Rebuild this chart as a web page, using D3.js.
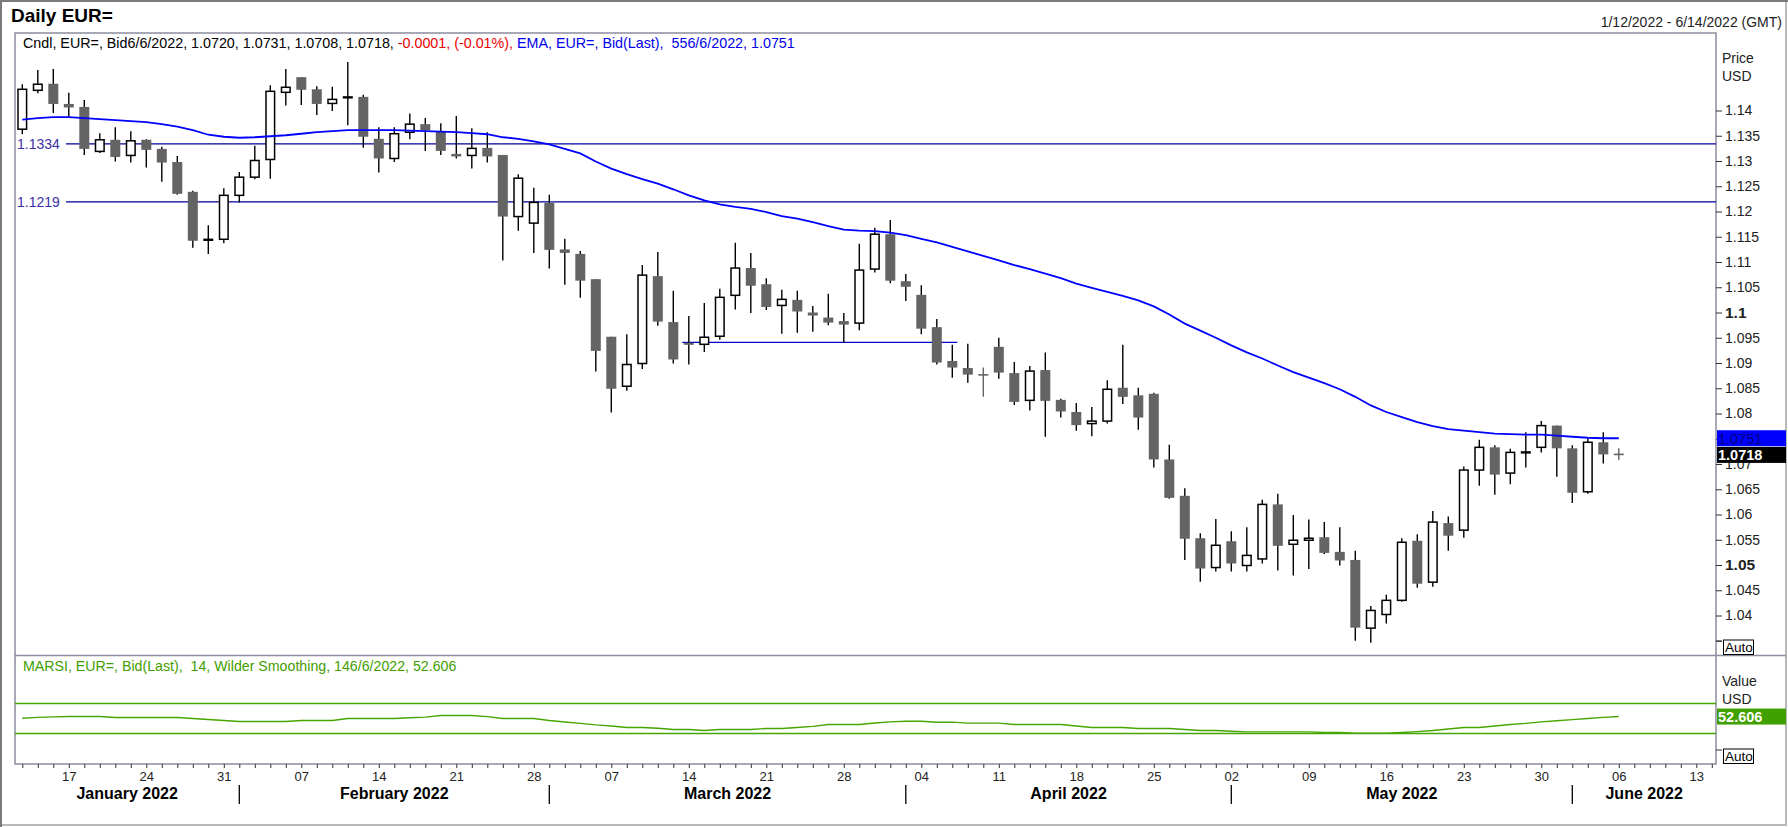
<!DOCTYPE html>
<html>
<head>
<meta charset="utf-8">
<script src="https://cdn.jsdelivr.net/npm/d3@7"></script>
<style>
  body { margin: 0; background: #fff; }
  svg { display: block; font-family: "Liberation Sans", Arial, sans-serif; }
  text { white-space: pre; }
</style>
</head>
<body>
<div id="chart"></div>
<script>
// ---- data (EUR= daily, 12 Jan 2022 - 6 Jun 2022) ----
const openP = [
  1.1363, 1.1440, 1.1453, 1.1413, 1.1407, 1.1319, 1.1342, 1.1311, 1.1342, 1.1324,
  1.1298, 1.1239, 1.1143, 1.1145, 1.1232, 1.1268, 1.1303, 1.1436, 1.1466, 1.1442,
  1.1414, 1.1425, 1.1427, 1.1344, 1.1305, 1.1357, 1.1373, 1.1359, 1.1314, 1.1311,
  1.1326, 1.1312, 1.1190, 1.1177, 1.1217, 1.1125, 1.1116, 1.1066, 1.0952, 1.0854,
  1.0899, 1.1072, 1.0981, 1.0940, 1.0937, 1.0953, 1.1034, 1.1088, 1.1056, 1.1014,
  1.1025, 1.1000, 1.0990, 1.0983, 1.0979, 1.1086, 1.1155, 1.1062, 1.1035, 1.0971,
  1.0904, 1.0890, 1.0877, 1.0932, 1.0880, 1.0826, 1.0886, 1.0827, 1.0803, 1.0780,
  1.0785, 1.0851, 1.0836, 1.0839, 1.0709, 1.0637, 1.0553, 1.0495, 1.0547, 1.0499,
  1.0512, 1.0620, 1.0541, 1.0549, 1.0555, 1.0526, 1.0510, 1.0375, 1.0402, 1.0430,
  1.0548, 1.0466, 1.0583, 1.0569, 1.0688, 1.0733, 1.0682, 1.0722, 1.0733, 1.0776,
  1.0731, 1.0645, 1.0743, 1.0720
];
const highP = [
  1.1452, 1.1480, 1.1482, 1.1435, 1.1421, 1.1355, 1.1367, 1.1359, 1.1343, 1.1328,
  1.1310, 1.1241, 1.1173, 1.1246, 1.1278, 1.1330, 1.1450, 1.1482, 1.1466, 1.1448,
  1.1447, 1.1496, 1.1431, 1.1367, 1.1367, 1.1394, 1.1385, 1.1375, 1.1389, 1.1365,
  1.1357, 1.1312, 1.1274, 1.1247, 1.1233, 1.1146, 1.1122, 1.1066, 1.0952, 1.0957,
  1.1094, 1.1120, 1.1043, 1.0993, 1.1019, 1.1047, 1.1138, 1.1118, 1.1068, 1.1045,
  1.1043, 1.1013, 1.1037, 1.0999, 1.1136, 1.1168, 1.1183, 1.1076, 1.1054, 1.0987,
  1.0936, 1.0938, 1.0891, 1.0950, 1.0902, 1.0894, 1.0921, 1.0829, 1.0821, 1.0813,
  1.0866, 1.0936, 1.0851, 1.0841, 1.0738, 1.0652, 1.0563, 1.0591, 1.0567, 1.0575,
  1.0629, 1.0641, 1.0599, 1.0590, 1.0585, 1.0575, 1.0528, 1.0419, 1.0441, 1.0553,
  1.0561, 1.0607, 1.0596, 1.0695, 1.0748, 1.0737, 1.0730, 1.0763, 1.0785, 1.0776,
  1.0737, 1.0750, 1.0763, 1.0731
];
const lowP = [
  1.1353, 1.1434, 1.1395, 1.1388, 1.1312, 1.1316, 1.1299, 1.1297, 1.1287, 1.1259,
  1.1233, 1.1128, 1.1116, 1.1137, 1.1218, 1.1264, 1.1265, 1.1410, 1.1411, 1.1391,
  1.1399, 1.1371, 1.1326, 1.1277, 1.1298, 1.1343, 1.1320, 1.1312, 1.1305, 1.1285,
  1.1297, 1.1103, 1.1162, 1.1118, 1.1087, 1.1055, 1.1029, 1.0883, 1.0802, 1.0845,
  1.0888, 1.0974, 1.0899, 1.0897, 1.0922, 1.0946, 1.1006, 1.0999, 1.1005, 1.0958,
  1.0960, 1.0962, 1.0975, 1.0941, 1.0965, 1.1079, 1.1058, 1.1023, 1.0957, 1.0897,
  1.0871, 1.0861, 1.0833, 1.0869, 1.0817, 1.0806, 1.0754, 1.0792, 1.0766, 1.0755,
  1.0780, 1.0819, 1.0768, 1.0693, 1.0631, 1.0510, 1.0467, 1.0487, 1.0487, 1.0487,
  1.0503, 1.0489, 1.0479, 1.0492, 1.0522, 1.0499, 1.0350, 1.0346, 1.0384, 1.0427,
  1.0455, 1.0457, 1.0528, 1.0554, 1.0657, 1.0639, 1.0660, 1.0693, 1.0723, 1.0675,
  1.0623, 1.0641, 1.0701, 1.0708
];
const closeP = [
  1.1442, 1.1452, 1.1413, 1.1406, 1.1324, 1.1342, 1.1308, 1.1340, 1.1322, 1.1297,
  1.1235, 1.1142, 1.1145, 1.1232, 1.1268, 1.1301, 1.1438, 1.1446, 1.1441, 1.1413,
  1.1422, 1.1427, 1.1348, 1.1305, 1.1354, 1.1373, 1.1361, 1.1320, 1.1309, 1.1325,
  1.1309, 1.1190, 1.1266, 1.1218, 1.1124, 1.1118, 1.1063, 1.0924, 1.0849, 1.0897,
  1.1074, 1.0982, 1.0907, 1.0936, 1.0951, 1.1030, 1.1088, 1.1053, 1.1011, 1.1026,
  1.1002, 1.0994, 1.0980, 1.0976, 1.1084, 1.1155, 1.1063, 1.1051, 1.0968, 1.0901,
  1.0891, 1.0877, 1.0876, 1.0881, 1.0823, 1.0884, 1.0825, 1.0804, 1.0777, 1.0785,
  1.0848, 1.0833, 1.0792, 1.0709, 1.0633, 1.0552, 1.0493, 1.0539, 1.0503, 1.0519,
  1.0620, 1.0538, 1.0549, 1.0553, 1.0524, 1.0509, 1.0376, 1.0410, 1.0430, 1.0545,
  1.0463, 1.0585, 1.0558, 1.0688, 1.0733, 1.0679, 1.0723, 1.0724, 1.0776, 1.0731,
  1.0643, 1.0743, 1.0719, 1.0718
];
// EMA 55 as drawn
const emaP = [
  1.1382, 1.1385, 1.1387, 1.1387, 1.1385, 1.1383, 1.1381, 1.1379, 1.1377, 1.1373,
  1.1368, 1.1361, 1.1352, 1.1348, 1.1346, 1.1347, 1.1349, 1.1351, 1.1354, 1.1357,
  1.1359, 1.1361, 1.1361, 1.1361, 1.1361, 1.1360, 1.1359, 1.1358, 1.1357, 1.1355,
  1.1353, 1.1347, 1.1344, 1.1339, 1.1333, 1.1324, 1.1315, 1.1299, 1.1285, 1.1274,
  1.1264, 1.1255, 1.1244, 1.1232, 1.1222, 1.1214, 1.1209, 1.1205, 1.1199, 1.1191,
  1.1186, 1.1179, 1.1171, 1.1164, 1.1162, 1.1161, 1.1158, 1.1153, 1.1146, 1.1139,
  1.1130, 1.1121, 1.1112, 1.1103, 1.1094, 1.1086, 1.1077, 1.1068, 1.1057, 1.1049,
  1.1041, 1.1033, 1.1024, 1.1012, 1.0996, 1.0978, 1.0964, 1.0950, 1.0935, 1.0921,
  1.0909, 1.0895, 1.0882, 1.0871, 1.0860, 1.0848, 1.0833, 1.0816, 1.0803, 1.0793,
  1.0783, 1.0775, 1.0769, 1.0766, 1.0763, 1.0760, 1.0759, 1.0758, 1.0758, 1.0756,
  1.0754, 1.0752, 1.0751, 1.0751
];
// MARSI 14, Wilder smoothing, as drawn
const rsiV = [
  50.3, 51.5, 52.2, 52.7, 52.7, 52.7, 51.3, 51.3, 51.3, 51.3,
  51.3, 50.0, 48.7, 47.3, 46.0, 46.0, 46.0, 46.0, 47.3, 47.3,
  47.3, 50.0, 50.0, 50.0, 50.0, 51.0, 51.8, 54.0, 54.0, 54.0,
  52.5, 50.0, 50.0, 50.0, 47.3, 45.3, 43.5, 41.5, 40.0, 38.0,
  38.0, 37.0, 35.3, 35.3, 34.0, 35.3, 35.3, 35.3, 36.7, 36.7,
  38.0, 39.5, 42.0, 42.0, 42.0, 44.0, 45.5, 46.4, 46.4, 45.1,
  45.1, 43.8, 43.8, 43.8, 42.0, 42.0, 42.0, 42.0, 40.0, 38.0,
  38.0, 38.0, 36.7, 36.7, 36.7, 35.3, 34.0, 34.0, 33.0, 32.2,
  32.2, 32.2, 32.2, 32.2, 31.3, 31.3, 30.4, 30.4, 30.4, 31.3,
  32.5, 34.0, 36.0, 38.0, 38.0, 40.0, 42.0, 43.5, 45.5, 47.0,
  48.5, 50.0, 51.5, 52.606
];
const priceTicks = [1.035, 1.04, 1.045, 1.05, 1.055, 1.06, 1.065, 1.07, 1.075, 1.08,
  1.085, 1.09, 1.095, 1.1, 1.105, 1.11, 1.115, 1.12, 1.125, 1.13, 1.135, 1.14];
const hiddenTicks = [1.035, 1.075];   // covered by the "Auto" box / EMA tag
const boldTicks = [1.1, 1.05];
const levelLines = [1.1334, 1.1219];
const supportLevel = [1.0941];
const supportDates = ["2022-03-14", "2022-04-06"];
const rsiBands = [70, 30];
const monthNames = ["January 2022", "February 2022", "March 2022", "April 2022", "May 2022", "June 2022"];
const rangeLabel = "1/12/2022 - 6/14/2022 (GMT)";

// ---- layout ----
const W = 1788, H = 827;
const L = 15, R = 1716, T = 33, priceBottom = 655.5, rsiBottom = 764;
const frame = "#8c8c9e";

// trading calendar: every weekday of the displayed range
const slots = d3.utcDay.range(new Date(Date.UTC(2022, 0, 12)), new Date(Date.UTC(2022, 5, 15)))
  .filter(d => d.getUTCDay() % 6 !== 0);
const fmtKey = d3.utcFormat("%Y-%m-%d");
const idxOf = s => slots.findIndex(d => fmtKey(d) === s);

const candles = openP.map((o, i) => ({ i, o, h: highP[i], l: lowP[i], c: closeP[i] }));

const svg = d3.select("#chart").append("svg")
  .attr("width", W).attr("height", H).attr("viewBox", `0 0 ${W} ${H}`);

const x = d3.scaleLinear().domain([0, slots.length - 1]).range([22.3, 1711.8]);
const y = d3.scaleLinear().domain([1.14, 1.05]).range([110.5, 565]);
const yr = d3.scaleLinear().domain(rsiBands).range([703.5, 733.5]);

// outer frame
svg.append("rect").attr("x", 1).attr("y", 1).attr("width", W - 3).attr("height", H - 3)
  .attr("fill", "#fff").attr("stroke", "#b8b8b8").attr("stroke-width", 2);
svg.append("line").attr("x1", 0).attr("x2", W).attr("y1", 1).attr("y2", 1)
  .attr("stroke", "#7a7a7a").attr("stroke-width", 2);
svg.append("line").attr("x1", 1).attr("x2", 1).attr("y1", 0).attr("y2", H)
  .attr("stroke", "#7a7a7a").attr("stroke-width", 2);

// title + date range
svg.append("text").attr("x", 11).attr("y", 21.5).attr("font-size", 19).attr("font-weight", "bold")
  .attr("fill", "#000").text("Daily EUR=");
svg.append("text").attr("x", 1782).attr("y", 27).attr("text-anchor", "end").attr("font-size", 14)
  .attr("fill", "#222").text(rangeLabel);

// pane borders
const g = svg.append("g");
g.append("rect").attr("x", L).attr("y", T).attr("width", R - L).attr("height", rsiBottom - T)
  .attr("fill", "none").attr("stroke", frame).attr("stroke-width", 1.5);
g.append("line").attr("x1", L).attr("x2", 1786).attr("y1", priceBottom).attr("y2", priceBottom)
  .attr("stroke", frame).attr("stroke-width", 1.5);

// legend lines
const last = candles[candles.length - 1];
const prev = closeP[closeP.length - 2];
const chg = last.c - prev;
const leg = svg.append("text").attr("x", 23).attr("y", 48).attr("font-size", 14.3);
leg.append("tspan").attr("fill", "#000")
  .text(`Cndl, EUR=, Bid6/6/2022, ${last.o.toFixed(4)}, ${last.h.toFixed(4)}, ${last.l.toFixed(4)}, ${last.c.toFixed(4)}, `);
leg.append("tspan").attr("fill", "#ee0000")
  .text(`${chg.toFixed(4)}, (${(chg / prev * 100).toFixed(2)}%), `);
leg.append("tspan").attr("fill", "#0000ee")
  .text(`EMA, EUR=, Bid(Last),  556/6/2022, ${emaP[emaP.length - 1].toFixed(4)}`);

svg.append("text").attr("x", 23).attr("y", 671).attr("font-size", 14.2).attr("fill", "#3f9e00")
  .text(`MARSI, EUR=, Bid(Last),  14, Wilder Smoothing, 146/6/2022, ${rsiV[rsiV.length - 1].toFixed(3)}`);

// horizontal level lines
levelLines.forEach(v => {
  svg.append("line").attr("x1", 66).attr("x2", R).attr("y1", y(v)).attr("y2", y(v))
    .attr("stroke", "#00009c").attr("stroke-width", 1.3);
  svg.append("text").attr("x", 17).attr("y", y(v) + 5).attr("font-size", 14).attr("fill", "#3b2fa8")
    .text(v.toFixed(4));
});
svg.append("line")
  .attr("x1", x(idxOf(supportDates[0])) - 6.5).attr("x2", x(idxOf(supportDates[1])) + 5)
  .attr("y1", y(supportLevel[0])).attr("y2", y(supportLevel[0]))
  .attr("stroke", "#0000c8").attr("stroke-width", 1.3);

// candles
const cg = svg.append("g");
candles.forEach(d => {
  const up = d.c >= d.o;
  const doji = Math.abs(d.c - d.o) < 0.00025;
  const cx = x(d.i);
  cg.append("line").attr("x1", cx).attr("x2", cx).attr("y1", y(d.h)).attr("y2", y(d.l))
    .attr("stroke", doji && !up ? "#646464" : "#000").attr("stroke-width", 1.4);
  if (doji) {
    cg.append("line").attr("x1", cx - 5).attr("x2", cx + 5)
      .attr("y1", y((d.o + d.c) / 2)).attr("y2", y((d.o + d.c) / 2))
      .attr("stroke", up ? "#000" : "#646464").attr("stroke-width", up ? 2.4 : 1.6);
  } else if (up) {
    cg.append("rect").attr("x", cx - 4.3).attr("width", 8.6)
      .attr("y", y(d.c)).attr("height", Math.max(1, y(d.o) - y(d.c)))
      .attr("fill", "#fff").attr("stroke", "#000").attr("stroke-width", 1.5);
  } else {
    cg.append("rect").attr("x", cx - 5).attr("width", 10)
      .attr("y", y(d.o)).attr("height", Math.max(1.5, y(d.c) - y(d.o)))
      .attr("fill", "#646464");
  }
});

// EMA line
svg.append("path").datum(emaP)
  .attr("fill", "none").attr("stroke", "#0000ff").attr("stroke-width", 1.8)
  .attr("d", d3.line().x((d, i) => x(i)).y(d => y(d)));

// RSI pane
rsiBands.forEach(v => {
  svg.append("line").attr("x1", L).attr("x2", R).attr("y1", yr(v)).attr("y2", yr(v))
    .attr("stroke", "#45a600").attr("stroke-width", 1.4);
});
svg.append("path").datum(rsiV)
  .attr("fill", "none").attr("stroke", "#45a600").attr("stroke-width", 1.4)
  .attr("d", d3.line().x((d, i) => x(i)).y(d => yr(d)));

// price axis
const pAxis = svg.append("g").attr("transform", `translate(${R},0)`)
  .call(d3.axisRight(y).tickValues(priceTicks).tickSize(6).tickPadding(3)
    .tickFormat(d => hiddenTicks.includes(d) ? "" : String(+d.toFixed(3))));
pAxis.select(".domain").remove();
pAxis.selectAll(".tick line").attr("stroke", "#333");
pAxis.selectAll(".tick text").attr("fill", "#222")
  .attr("font-family", "'Liberation Sans', Arial, sans-serif")
  .attr("font-size", d => boldTicks.includes(d) ? 15.5 : 14)
  .attr("font-weight", d => boldTicks.includes(d) ? "bold" : "normal");

[["Price", 63], ["USD", 81], ["Value", 685.5], ["USD", 704]].forEach(([t, ty]) => {
  svg.append("text").attr("x", 1722).attr("y", ty).attr("font-size", 14).attr("fill", "#222").text(t);
});

// last-value tags
function tag(yc, bg, fg, label, bold) {
  svg.append("rect").attr("x", R + 1).attr("y", yc - 8).attr("width", 69).attr("height", 16).attr("fill", bg);
  svg.append("text").attr("x", R + 2).attr("y", yc + 5.5).attr("font-size", 14.5)
    .attr("font-weight", bold ? "bold" : "normal").attr("fill", fg).text(label);
}
tag(y(emaP[emaP.length - 1]), "#0000ff", "#00007a", emaP[emaP.length - 1].toFixed(4), false);
tag(y(last.c), "#000", "#fff", last.c.toFixed(4), true);
tag(yr(rsiV[rsiV.length - 1]), "#3fa000", "#fff", rsiV[rsiV.length - 1].toFixed(3), true);

// "Auto" boxes
[647, 756].forEach(by => {
  svg.append("line").attr("x1", R).attr("x2", R + 6).attr("y1", by - 6).attr("y2", by - 6).attr("stroke", "#333");
  svg.append("rect").attr("x", 1723.5).attr("y", by - 7).attr("width", 30).attr("height", 14.5)
    .attr("fill", "#fff").attr("stroke", "#000").attr("stroke-width", 1);
  svg.append("text").attr("x", 1725).attr("y", by + 5).attr("font-size", 13.5).attr("fill", "#000").text("Auto");
});

// time axis
const fmtDay = d3.utcFormat("%d");
const tAxis = svg.append("g").attr("transform", `translate(0,${rsiBottom})`)
  .call(d3.axisBottom(x).tickValues(d3.range(slots.length)).tickSize(4).tickPadding(4)
    .tickFormat(i => slots[i].getUTCDay() === 1 ? fmtDay(slots[i]) : ""));
tAxis.select(".domain").remove();
tAxis.selectAll(".tick line").attr("stroke", "#333");
tAxis.selectAll(".tick text").attr("fill", "#222").attr("font-size", 13)
  .attr("font-family", "'Liberation Sans', Arial, sans-serif");

// month separators + labels
const firstIdx = monthNames.map((m, k) => slots.findIndex(d => d.getUTCMonth() === k));
monthNames.forEach((m, k) => {
  const left = k === 0 ? L : x(firstIdx[k]);
  const right = k === monthNames.length - 1 ? R : x(firstIdx[k + 1]);
  if (k > 0) {
    svg.append("line").attr("x1", left).attr("x2", left).attr("y1", 785).attr("y2", 804)
      .attr("stroke", "#000").attr("stroke-width", 1.3);
  }
  svg.append("text").attr("x", (left + right) / 2).attr("y", 799).attr("text-anchor", "middle")
    .attr("font-size", 16).attr("font-weight", "bold").attr("fill", "#000").text(m);
});
</script>
</body>
</html>
